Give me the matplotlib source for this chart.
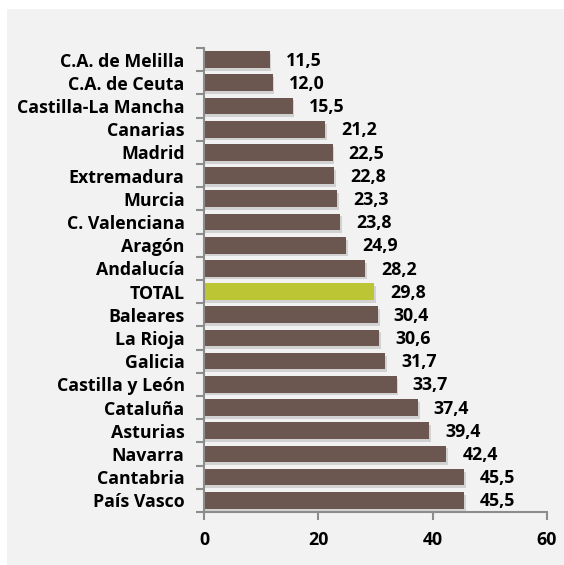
import matplotlib.pyplot as plt

regiones = [
    "C.A. de Melilla", "C.A. de Ceuta", "Castilla-La Mancha", "Canarias",
    "Madrid", "Extremadura", "Murcia", "C. Valenciana", "Aragón",
    "Andalucía", "TOTAL", "Baleares", "La Rioja", "Galicia",
    "Castilla y León", "Cataluña", "Asturias", "Navarra", "Cantabria",
    "País Vasco",
]
valores = [11.5, 12.0, 15.5, 21.2, 22.5, 22.8, 23.3, 23.8, 24.9, 28.2,
           29.8, 30.4, 30.6, 31.7, 33.7, 37.4, 39.4, 42.4, 45.5, 45.5]
x_ticks = [0, 20, 40, 60]

COLOR_BAR = "#6b5750"
COLOR_TOTAL = "#bcc635"
BG = "#f2f2f2"
FONT = "Open Sans"
FS = 12.8

fig = plt.figure(figsize=(5.64, 5.65), dpi=100)
fig.patch.set_facecolor("white")

# panel gris de fondo (detras de todo)
bg = fig.add_axes([7 / 564, 0, 1 - 7 / 564, 1 - 9 / 565], zorder=-10)
bg.set_facecolor(BG)
bg.set_xticks([])
bg.set_yticks([])
for s in bg.spines.values():
    s.set_visible(False)

ax = fig.add_axes([204 / 564, 0.094, 343 / 564, 0.821])
ax.set_facecolor("none")

y = list(range(len(regiones)))
colores = [COLOR_TOTAL if r == "TOTAL" else COLOR_BAR for r in regiones]

# sombra ligera
ax.barh([v + 0.12 for v in y], [v + 0.3 for v in valores], height=0.72,
        color="#bdbdbd", alpha=0.6, zorder=1)
ax.barh(y, valores, height=0.72, color=colores, zorder=2)

for yi, v in zip(y, valores):
    ax.text(v + 2.8, yi + 0.05, f"{v:.1f}".replace(".", ","), va="center",
            ha="left", fontsize=FS, fontweight="bold", family=FONT,
            color="black")

ax.set_ylim(len(regiones) - 0.5, -0.5)
ax.set_xlim(0, 60)
ax.set_xticks(x_ticks)
ax.set_xticklabels([str(t) for t in x_ticks], fontsize=FS, fontweight="bold",
                   family=FONT)
ax.set_yticks(y)
ax.set_yticklabels(regiones, fontsize=FS, fontweight="bold", family=FONT)
ax.set_yticks([i - 0.5 for i in range(len(regiones) + 1)], minor=True)

ax.tick_params(axis="y", which="major", length=0, pad=14)
ax.tick_params(axis="y", which="minor", length=6, color="#8c8c8c", width=1.5)
ax.tick_params(axis="x", length=6, color="#8c8c8c", width=1.5, pad=8)

for s in ["top", "right"]:
    ax.spines[s].set_visible(False)
for s in ["left", "bottom"]:
    ax.spines[s].set_color("#8c8c8c")
    ax.spines[s].set_linewidth(1.5)

fig.savefig("out.png", dpi=100, facecolor=fig.get_facecolor())
